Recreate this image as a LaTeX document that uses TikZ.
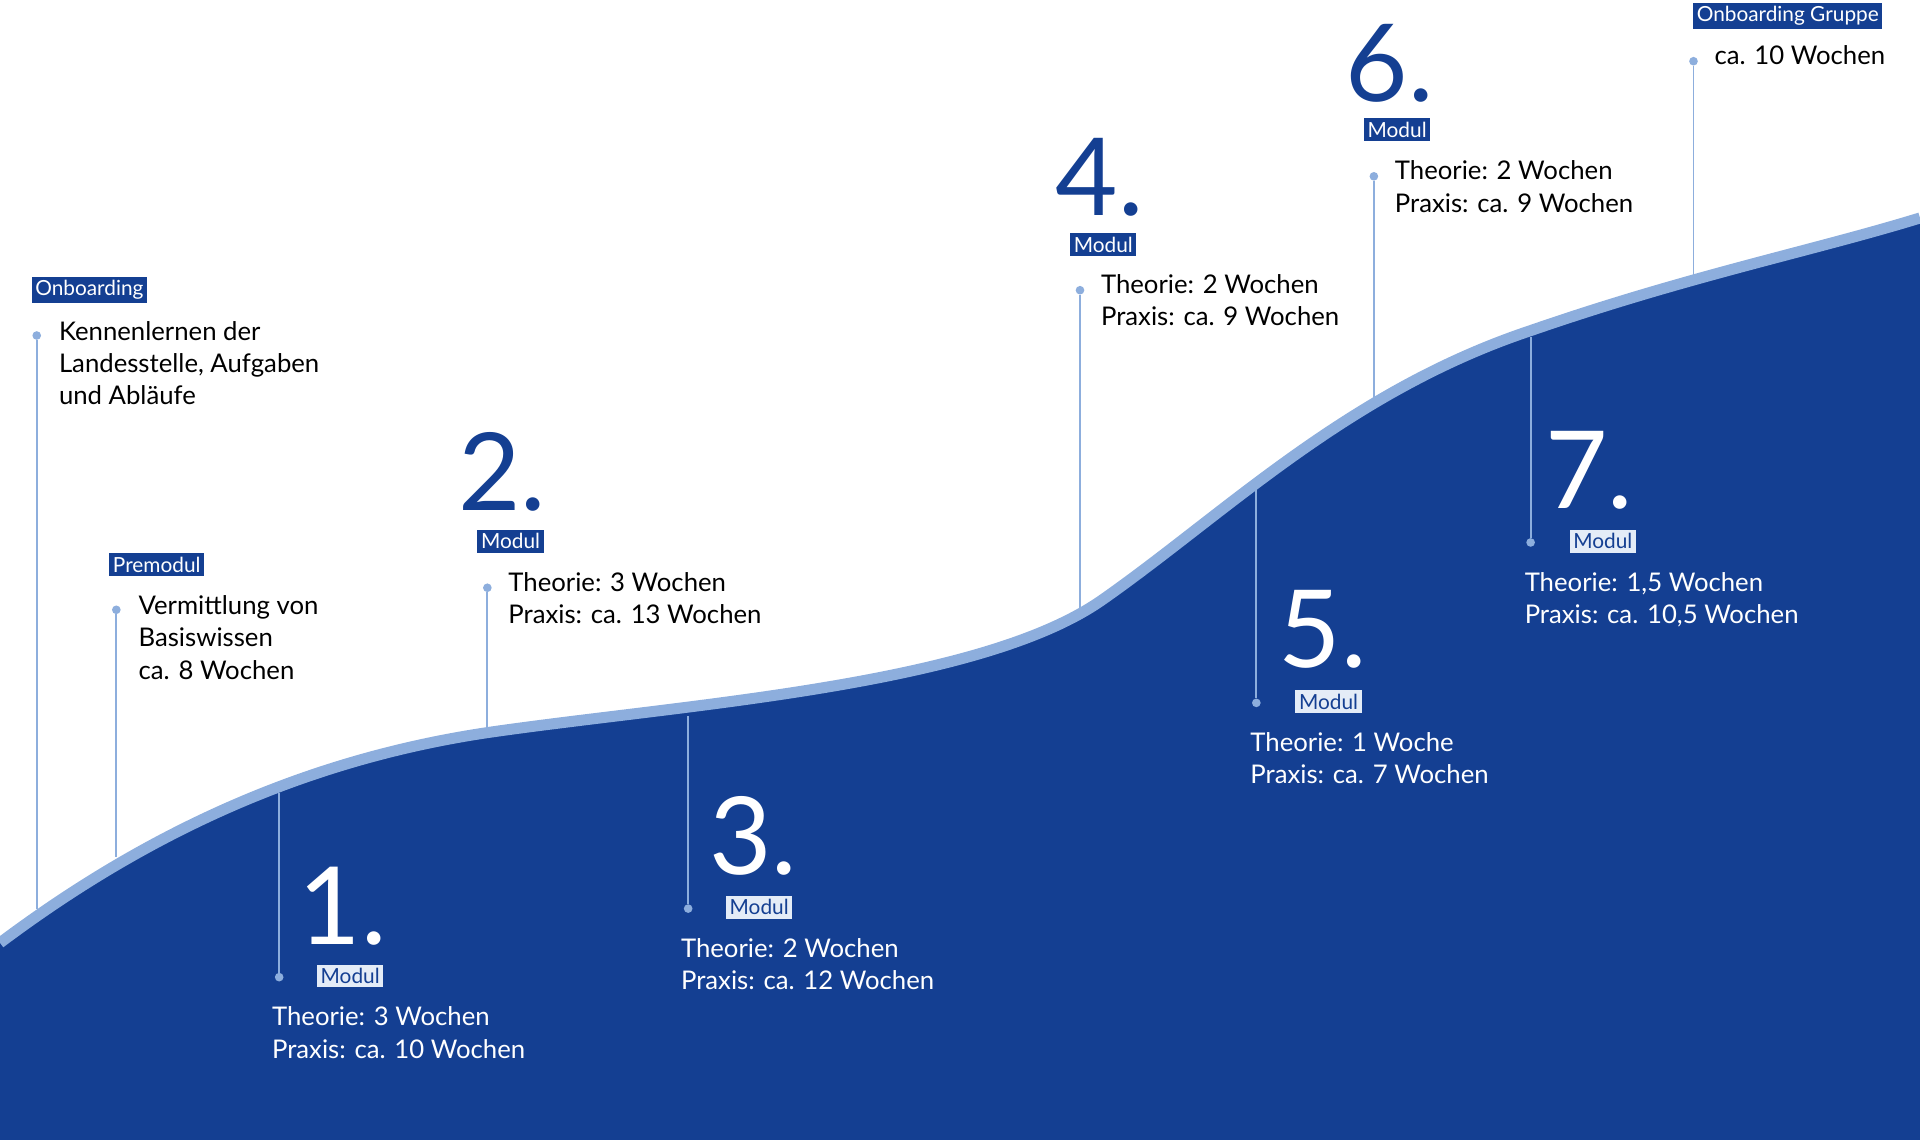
\documentclass[tikz,border=0pt]{standalone}
\usepackage{fontspec}
\setmainfont{Lato}
\usepackage{xcolor}
\usetikzlibrary{positioning}
\definecolor{darkblue}{HTML}{143F92}
\definecolor{lightblue}{HTML}{8DAEDD}
\definecolor{paleblue}{HTML}{E4ECF7}

\begin{document}
\begin{tikzpicture}[x=1pt,y=-1pt]
            \tikzstyle{tagtop} = [fill=darkblue, text=white, inner sep=3pt, font=\fontsize{17}{20}\selectfont]
            \tikzstyle{tagbot} = [fill=paleblue, text=darkblue, inner sep=3pt, font=\fontsize{17}{20}\selectfont]
            \tikzstyle{info} = [anchor=north west, align=left, inner sep=0pt, font=\fontsize{21}{26.5}\selectfont]
            \tikzstyle{num} = [inner sep=0pt, font=\fontsize{88}{88}\selectfont]
            \tikzstyle{pin} = [draw=lightblue, line width=1.6pt]

            \useasboundingbox (0,0) rectangle (1568,931);
            % hill
            \fill[darkblue] (0,770) .. controls (120,680) and (250,620) .. (400,598)
                .. controls (560,575) and (800,560) .. (900,490)
                .. controls (1000,420) and (1100,320) .. (1250,270)
                .. controls (1380,225) and (1480,205) .. (1568,178) -- (1568,931) -- (0,931) -- cycle;
            \draw[lightblue, line width=9pt] (0,770) .. controls (120,680) and (250,620) .. (400,598)
                .. controls (560,575) and (800,560) .. (900,490)
                .. controls (1000,420) and (1100,320) .. (1250,270)
                .. controls (1380,225) and (1480,205) .. (1568,178);

            % ends of the pins on the hill
            \coordinate (h0) at (30,742);
            \coordinate (hp) at (95,700);
            \coordinate (h1) at (228,648);
            \coordinate (h2) at (398,600);
            \coordinate (h3) at (562,585);
            \coordinate (h4) at (882,500);
            \coordinate (h5) at (1026,398);
            \coordinate (h6) at (1122,325);
            \coordinate (h7) at (1250,275);
            \coordinate (hg) at (1383,226);

            % above the hill
            \node [tagtop] (onb) at (73,237) {Onboarding};
            \node [info] (onbtext) at (48,262) {Kennenlernen der\\Landesstelle, Aufgaben\\und Abläufe};
            \node [circle, fill=lightblue, inner sep=2.5pt] (d0) at (30,274) {};
            \node [tagtop] (pre) at (128,461) {Premodul};
            \node [info] (pretext) at (113,486) {Vermittlung von\\Basiswissen\\ca. 8 Wochen};
            \node [circle, fill=lightblue, inner sep=2.5pt] (dp) at (95,498) {};
            \node [num, text=darkblue] (n2) at (410,385) {2.};
            \node [tagtop] (m2) at (417,442) {Modul};
            \node [info] (t2) at (415,467) {Theorie: 3 Wochen\\Praxis: ca. 13 Wochen};
            \node [circle, fill=lightblue, inner sep=2.5pt] (d2) at (398,480) {};
            \node [num, text=darkblue] (n4) at (898,145) {4.};
            \node [tagtop] (m4) at (901,200) {Modul};
            \node [info] (t4) at (899,224) {Theorie: 2 Wochen\\Praxis: ca. 9 Wochen};
            \node [circle, fill=lightblue, inner sep=2.5pt] (d4) at (882,237) {};
            \node [num, text=darkblue] (n6) at (1135,52) {6.};
            \node [tagtop] (m6) at (1141,106) {Modul};
            \node [info] (t6) at (1139,131) {Theorie: 2 Wochen\\Praxis: ca. 9 Wochen};
            \node [circle, fill=lightblue, inner sep=2.5pt] (d6) at (1122,144) {};
            \node [tagtop] (grp) at (1460,13) {Onboarding Gruppe};
            \node [info] (tg) at (1400,37) {ca. 10 Wochen};
            \node [circle, fill=lightblue, inner sep=2.5pt] (dg) at (1383,50) {};

            % on the hill
            \node [num, text=white] (n1) at (280,740) {1.};
            \node [tagbot] (m1) at (286,797) {Modul};
            \node [info, text=white] (t1) at (222,822) {Theorie: 3 Wochen\\Praxis: ca. 10 Wochen};
            \node [circle, fill=lightblue, inner sep=2.5pt] (d1) at (228,798) {};
            \node [num, text=white] (n3) at (615,683) {3.};
            \node [tagbot] (m3) at (620,741) {Modul};
            \node [info, text=white] (t3) at (556,766) {Theorie: 2 Wochen\\Praxis: ca. 12 Wochen};
            \node [circle, fill=lightblue, inner sep=2.5pt] (d3) at (562,742) {};
            \node [num, text=white] (n5) at (1080,514) {5.};
            \node [tagbot] (m5) at (1085,573) {Modul};
            \node [info, text=white] (t5) at (1021,598) {Theorie: 1 Woche\\Praxis: ca. 7 Wochen};
            \node [circle, fill=lightblue, inner sep=2.5pt] (d5) at (1026,574) {};
            \node [num, text=white] (n7) at (1298,384) {7.};
            \node [tagbot] (m7) at (1309,442) {Modul};
            \node [info, text=white] (t7) at (1245,467) {Theorie: 1,5 Wochen\\Praxis: ca. 10,5 Wochen};
            \node [circle, fill=lightblue, inner sep=2.5pt] (d7) at (1250,443) {};

            \draw [pin] (d0) -- (h0);
            \draw [pin] (dp) -- (hp);
            \draw [pin] (d1) -- (h1);
            \draw [pin] (d2) -- (h2);
            \draw [pin] (d3) -- (h3);
            \draw [pin] (d4) -- (h4);
            \draw [pin] (d5) -- (h5);
            \draw [pin] (d6) -- (h6);
            \draw [pin] (d7) -- (h7);
            \draw [pin] (dg) -- (hg);
\end{tikzpicture}
\end{document}
